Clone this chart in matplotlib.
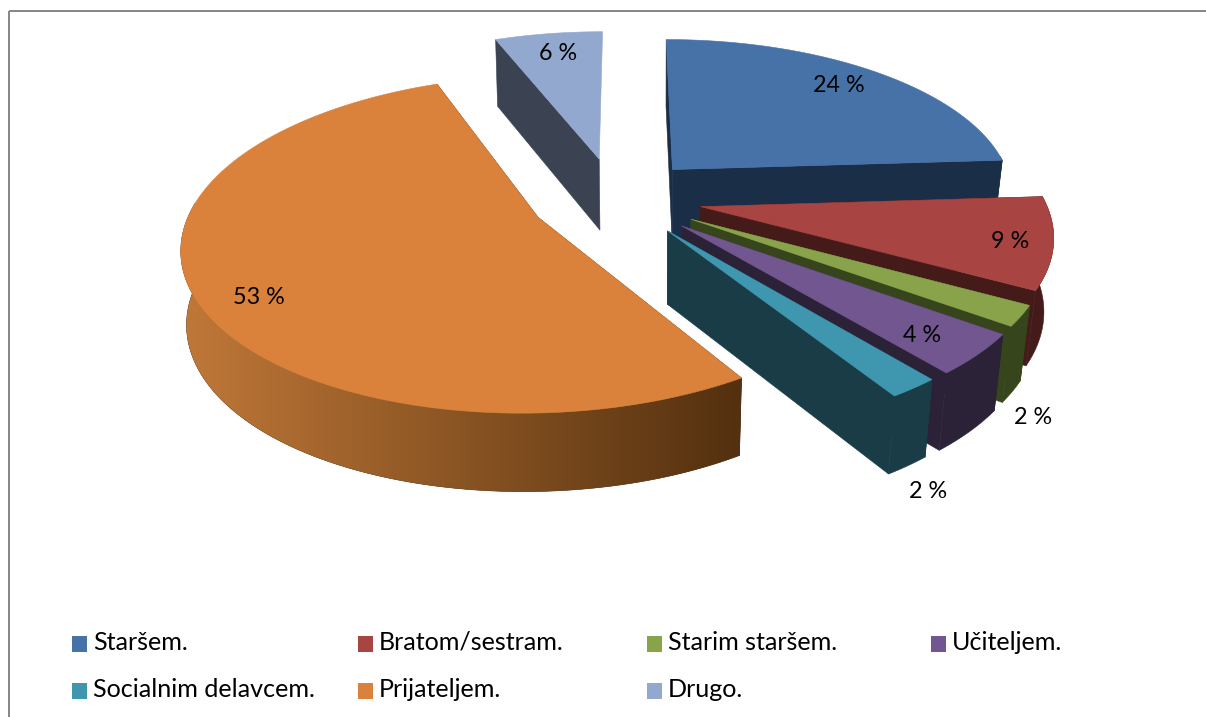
import numpy as np
import matplotlib
matplotlib.use("Agg")
import matplotlib.pyplot as plt
from matplotlib.patches import Patch, Polygon, Rectangle
from matplotlib.colors import LinearSegmentedColormap
from matplotlib.legend_handler import HandlerPatch

# ---- data ----
categories = ["Staršem.", "Bratom/sestram.", "Starim staršem.", "Učiteljem.",
              "Socialnim delavcem.", "Prijateljem.", "Drugo."]
values = [24, 9, 2, 4, 2, 53, 6]

# ---- style ----
top_colors = ["#4672A8", "#A84442", "#88A34A", "#71568F", "#3F97AF", "#DA813B", "#92A8CF"]
wall_colors = ["#1B2E47", "#451B19", "#37451C", "#2C2238", "#193C47", "#53300F", "#3B4252"]
wall_light = [None, None, None, None, None, "#C07838", None]
show_end_face = [True, True, True, True, True, True, False]
explode_x = [0.142, 0.218, 0.188, 0.160, 0.120, -0.248, -0.078]
explode_y = [0.134, -0.105, -0.182, -0.222, -0.252, -0.171, 0.204]
label_xy = [(839, 86), (1010, 242), (1033, 417), (922, 336), (928, 492), (259, 297), (558, 53)]

CX, CY, RX, RY, PERSP, DEPTH, DEPTH_PERSP = 625.0, 190.0, 341.0, 156.0, 0.155, 72.0, 0.07
VX, SHRINK_R, SHRINK_L = 660.0, 0.025, 0.012
FONT = "Lato"
FS_LABEL, FS_LEGEND = 16.8, 18.05


def project(X, Y, z=0.0):
    k = 1.0 / (1.0 + PERSP * Y)
    x = CX + RX * X * k
    shrink = np.where(x > VX, SHRINK_R, SHRINK_L)
    d = DEPTH / (1.0 + DEPTH_PERSP * Y)
    return x - z * shrink * (x - VX), CY - RY * Y * k + z * d


def square(legend=None, orig_handle=None, xdescent=0, ydescent=0, width=0, height=0, fontsize=0):
    return Rectangle((-xdescent, -ydescent - 2.0), width, height)


fig = plt.figure(figsize=(12.06, 7.17), dpi=100)
ax = fig.add_axes([0, 0, 1, 1])
ax.set_xlim(0, 1206)
ax.set_ylim(717, 0)
ax.axis("off")
ax.add_patch(Rectangle((9, 11), 1250, 800, fill=False, ec="#898989", lw=1.44))

edges = np.concatenate([[0], np.cumsum(values)]) / np.sum(values) * 2 * np.pi
order = [6, 0, 1, 2, 3, 4, 5]  # painter's order, back to front
for i in order:
    th = np.linspace(edges[i], edges[i + 1], max(int((edges[i + 1] - edges[i]) * 80), 6))
    X = explode_x[i] + np.sin(th)
    Y = explode_y[i] + np.cos(th)
    ox, oy = explode_x[i], explode_y[i]
    # radial cut faces
    faces = [(X[0], Y[0])]
    if show_end_face[i]:
        faces.append((X[-1], Y[-1]))
    for ex, ey in faces:
        quad = [project(ox, oy), project(ex, ey), project(ex, ey, 1), project(ox, oy, 1)]
        ax.add_patch(Polygon(quad, closed=True, fc=wall_colors[i], ec=wall_colors[i], lw=0.4))
    # outer wall: only the part of the rim that faces the viewer
    front = np.cos(th) < 0.1
    if front.sum() >= 2:
        tx, ty = project(X[front], Y[front])
        bx, by = project(X[front], Y[front], 1)
        wall = np.column_stack([np.r_[tx, bx[::-1]], np.r_[ty, by[::-1]]])
        wall_patch = Polygon(wall, closed=True, fc=wall_colors[i], ec=wall_colors[i], lw=0.4)
        ax.add_patch(wall_patch)
        if wall_light[i] is not None:
            cmap = LinearSegmentedColormap.from_list("wall", [wall_light[i], wall_colors[i]])
            ramp = np.linspace(0, 1, 256)[None, :]
            im = ax.imshow(ramp, cmap=cmap, aspect="auto", interpolation="bilinear", zorder=1,
                           extent=(wall[:, 0].min(), wall[:, 0].max(), wall[:, 1].max(), wall[:, 1].min()))
            im.set_clip_path(wall_patch)
            ax.set_xlim(0, 1206)
            ax.set_ylim(717, 0)
    # top face
    px, py = project(np.r_[ox, X], np.r_[oy, Y])
    ax.add_patch(Polygon(np.column_stack([px, py]), closed=True, fc=top_colors[i],
                         ec=top_colors[i], lw=0.4))

# labels
for v, (lx, ly) in zip(values, label_xy):
    ax.text(lx, ly, f"{v} %", ha="center", va="center", fontsize=FS_LABEL, family=FONT,
            color="black", zorder=5)

# legend: four equally spaced columns
legend_cols = [[0, 4], [1, 5], [2, 6], [3]]
legend_x = [72, 358, 647, 931]
for col, x in zip(legend_cols, legend_x):
    handles = [Patch(fc=top_colors[i], ec="none", label=categories[i]) for i in col]
    leg = ax.legend(handles=handles, loc="upper left", bbox_to_anchor=(x, 631),
                    bbox_transform=ax.transData, frameon=False, borderpad=0, borderaxespad=0,
                    handlelength=0.6, handleheight=0.6, handletextpad=0.24, labelspacing=0.95,
                    handler_map={Patch: HandlerPatch(patch_func=square)},
                    prop={"family": FONT, "size": FS_LEGEND})
    ax.add_artist(leg)
    ax.legend_ = None

fig.savefig("out.png", dpi=100, facecolor="white")
